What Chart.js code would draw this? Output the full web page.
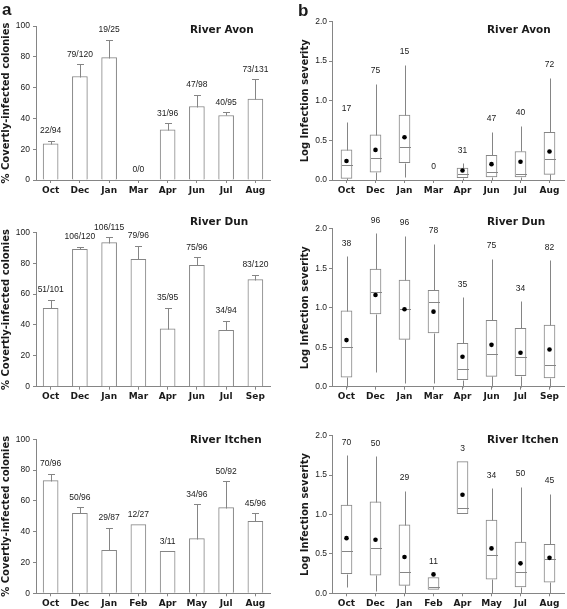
<!DOCTYPE html>
<html><head><meta charset="utf-8">
<script src="https://cdn.jsdelivr.net/npm/chart.js@4.4.0/dist/chart.umd.min.js"></script>
<style>
html,body{margin:0;padding:0;background:#fff;}
#fig{position:relative;width:567px;height:609px;overflow:hidden;background:#fff;}
canvas{position:absolute;}
</style></head><body><div id="fig"></div>
<script>
// ---------- DATA ----------
const avonMonths   = ['Oct','Dec','Jan','Mar','Apr','Jun','Jul','Aug'];
const dunMonths    = ['Oct','Dec','Jan','Mar','Apr','Jun','Jul','Sep'];
const itchenMonths = ['Oct','Dec','Jan','Feb','Apr','May','Jul','Aug'];

// panel a: % covertly-infected colonies (bar) and upper error limit
const avonPct     = [23.5, 67.2, 79.5, 0, 32.6, 47.7, 41.9, 52.5];
const avonUpper   = [25.3, 75.2, 90.9, 0, 36.9, 55.1, 44.0, 65.4];
const avonCounts  = ['22/94','79/120','19/25','0/0','31/96','47/98','40/95','73/131'];

const dunPct      = [50.8, 89.0, 93.3, 82.5, 37.4, 78.6, 36.5, 69.3];
const dunUpper    = [56.4, 90.7, 96.8, 91.4, 51.2, 83.8, 42.8, 72.4];
const dunCounts   = ['51/101','106/120','106/115','79/96','35/95','75/96','34/94','83/120'];

const itchenPct    = [73.2, 51.9, 27.9, 44.6, 27.3, 35.5, 55.6, 46.8];
const itchenUpper  = [77.5, 55.8, 42.6, null, null, 57.8, 72.7, 51.9];
const itchenCounts = ['70/96','50/96','29/87','12/27','3/11','34/96','50/92','45/96'];

// panel b: log infection severity box plots
const avonMin  = [0.00, 0.00, 0.04, null, 0.00, 0.00, 0.00, 0.00];
const avonQ1   = [0.02, 0.10, 0.22, null, 0.03, 0.04, 0.04, 0.07];
const avonMed  = [0.19, 0.28, 0.42, null, 0.08, 0.10, 0.08, 0.27];
const avonQ3   = [0.38, 0.57, 0.82, null, 0.15, 0.31, 0.36, 0.60];
const avonMax  = [0.73, 1.21, 1.45, null, 0.21, 0.61, 0.68, 1.29];
const avonMean = [0.24, 0.38, 0.54, null, 0.12, 0.20, 0.23, 0.36];
const avonN    = ['17','75','15','0','31','47','40','72'];

const dunMin  = [0.00, 0.19, 0.05, 0.05, 0.00, 0.00, 0.00, 0.00];
const dunQ1   = [0.12, 0.92, 0.60, 0.68, 0.09, 0.13, 0.14, 0.11];
const dunMed  = [0.50, 1.20, 0.98, 1.07, 0.22, 0.41, 0.38, 0.27];
const dunQ3   = [0.96, 1.49, 1.35, 1.22, 0.55, 0.84, 0.74, 0.78];
const dunMax  = [1.65, 1.94, 1.91, 1.81, 1.13, 1.62, 1.08, 1.60];
const dunMean = [0.59, 1.16, 0.98, 0.95, 0.38, 0.53, 0.43, 0.47];
const dunN    = ['38','96','96','78','35','75','34','82'];

const itchenMin  = [0.08, 0.03, 0.00, null, null, 0.00, 0.00, 0.00];
const itchenQ1   = [0.25, 0.23, 0.10, 0.05, 1.01, 0.18, 0.08, 0.14];
const itchenMed  = [0.54, 0.58, 0.27, 0.08, 1.08, 0.48, 0.27, 0.43];
const itchenQ3   = [1.12, 1.16, 0.87, 0.20, 1.67, 0.93, 0.65, 0.62];
const itchenMax  = [1.75, 1.74, 1.30, null, null, 1.33, 1.35, 1.26];
const itchenMean = [0.70, 0.68, 0.46, 0.24, 1.25, 0.57, 0.38, 0.45];
const itchenN    = ['70','50','29','11','3','34','50','45'];

const pctTicks = [0, 20, 40, 60, 80, 100];
const sevTicks = [0.0, 0.5, 1.0, 1.5, 2.0];

// ---------- STYLE / LAYOUT ----------
const GRAY = '#858585';
const TXT = '#1a1a1a';
const NUMFAM = "'Liberation Sans', Arial, sans-serif";
const BOLDFAM = "'DejaVu Sans', Verdana, sans-serif";

const ROWS = [
  {cy:0,   ch:200, barT:26,    barB:180,   boxT:21.5,  boxB:180,   titleY:32.5},
  {cy:200, ch:205, barT:232.3, barB:386.7, boxT:228.7, boxB:386.7, titleY:224.5},
  {cy:405, ch:204, barT:439.3, barB:593.3, boxT:435.7, boxB:593.3, titleY:442.7}
];
const LEFT  = {cx:0,   cw:283, L:36,  R:270, titleX:190, tickPad:3, titlePad:0};
const RIGHT = {cx:295, cw:272, L:332, R:564, titleX:487, tickPad:2, titlePad:4.5};

function addCanvas(x, y, w, h) {
  const c = document.createElement('canvas');
  c.width = w; c.height = h;
  c.style.left = x + 'px'; c.style.top = y + 'px';
  c.style.width = w + 'px'; c.style.height = h + 'px';
  document.getElementById('fig').appendChild(c);
  return c;
}

const decor = {
  id: 'decor',
  afterDraw(chart, args, o) {
    const ctx = chart.ctx;
    ctx.save();
    ctx.fillStyle = TXT;
    ctx.textAlign = 'left';
    ctx.textBaseline = 'alphabetic';
    if (o.title) {
      ctx.font = 'bold 10.5px ' + BOLDFAM;
      ctx.fillText(o.title, o.tx, o.ty);
    }
    if (o.letter) {
      ctx.font = 'bold 17px ' + NUMFAM;
      ctx.fillText(o.letter, o.lx, o.ly);
    }
    ctx.restore();
  }
};

const barExtras = {
  id: 'barExtras',
  afterDatasetsDraw(chart, args, o) {
    const ctx = chart.ctx, xs = chart.scales.x, ys = chart.scales.y;
    ctx.save();
    ctx.strokeStyle = GRAY; ctx.lineWidth = 1;
    o.values.forEach((v, i) => {
      const xc = Math.round(xs.getPixelForValue(i)) + 0.5;
      const u = o.upper[i];
      if (u != null && u > v) {
        const y0 = Math.round(ys.getPixelForValue(v)) + 0.5;
        const y1 = Math.round(ys.getPixelForValue(u)) + 0.5;
        ctx.beginPath();
        ctx.moveTo(xc, y0); ctx.lineTo(xc, y1);
        ctx.moveTo(xc - 3.5, y1); ctx.lineTo(xc + 3.5, y1);
        ctx.stroke();
      }
      const top = Math.max(v, u == null ? v : u);
      ctx.fillStyle = TXT;
      ctx.font = '8.5px ' + NUMFAM;
      ctx.textAlign = 'center'; ctx.textBaseline = 'middle';
      ctx.fillText(o.labels[i], xs.getPixelForValue(i), ys.getPixelForValue(top) - 10);
    });
    ctx.restore();
  }
};

const boxExtras = {
  id: 'boxExtras',
  afterDatasetDraw(chart, args, o) {
    if (args.index !== 0) return;
    const ctx = chart.ctx, xs = chart.scales.x, ys = chart.scales.y;
    ctx.save();
    ctx.strokeStyle = GRAY; ctx.lineWidth = 1;
    o.q1.forEach((q1, i) => {
      if (q1 == null) return;
      const xc = Math.round(xs.getPixelForValue(i)) + 0.5;
      const py = v => Math.round(ys.getPixelForValue(v)) + 0.5;
      ctx.beginPath();
      if (o.max[i] != null) { ctx.moveTo(xc, py(o.q3[i])); ctx.lineTo(xc, py(o.max[i])); }
      if (o.min[i] != null) { ctx.moveTo(xc, py(q1)); ctx.lineTo(xc, py(o.min[i])); }
      const m = py(o.med[i]);
      ctx.moveTo(xc - 5.5, m); ctx.lineTo(xc + 5.5, m);
      ctx.stroke();
    });
    ctx.restore();
  },
  afterDatasetsDraw(chart, args, o) {
    const ctx = chart.ctx, xs = chart.scales.x, ys = chart.scales.y;
    ctx.save();
    ctx.fillStyle = TXT;
    ctx.font = '8.5px ' + NUMFAM;
    ctx.textAlign = 'center'; ctx.textBaseline = 'middle';
    o.labels.forEach((lab, i) => {
      const vals = [o.max[i], o.q3[i], o.mean[i]].filter(v => v != null);
      const top = vals.length ? Math.max(...vals) : 0;
      ctx.fillText(lab, xs.getPixelForValue(i), ys.getPixelForValue(top) - 13);
    });
    ctx.restore();
  }
};

function scalesFor(side, row, T, B, yMax, ticks, yTitle, fmt) {
  const xH = row.cy + row.ch - B;
  const yW = side.L - side.cx;
  return {
    x: {
      type: 'category', offset: true,
      grid: {display: true, drawOnChartArea: false, offset: false, tickLength: 3, color: GRAY, lineWidth: 1},
      border: {display: true, color: GRAY, width: 1},
      ticks: {font: {family: BOLDFAM, size: 9, weight: 'bold'}, color: TXT, padding: 2, maxRotation: 0, autoSkip: false},
      afterFit: s => { s.height = xH; }
    },
    y: {
      min: 0, max: yMax,
      afterBuildTicks: s => { s.ticks = ticks.map(v => ({value: v})); },
      grid: {display: true, drawOnChartArea: false, tickLength: 3, color: GRAY, lineWidth: 1},
      border: {display: true, color: GRAY, width: 1},
      ticks: {font: {family: NUMFAM, size: 8.5}, color: TXT, padding: side.tickPad, callback: fmt},
      title: {display: true, text: yTitle, font: {family: BOLDFAM, size: 10, weight: 'bold'}, color: TXT,
              padding: {top: side.titlePad, bottom: 0}},
      afterFit: s => { s.width = yW; }
    }
  };
}

function makeBar(rowIdx, months, pct, upper, counts, title, letter) {
  const row = ROWS[rowIdx], side = LEFT;
  const c = addCanvas(side.cx, row.cy, side.cw, row.ch);
  new Chart(c, {
    type: 'bar',
    data: {
      labels: months,
      datasets: [{
        data: pct.map(v => v > 0 ? v : null),
        backgroundColor: '#ffffff', borderColor: GRAY, borderWidth: 1,
        borderSkipped: 'start', barThickness: 15
      }]
    },
    options: {
      responsive: false, animation: false, devicePixelRatio: 1,
      layout: {padding: {top: row.barT - row.cy, right: side.cx + side.cw - side.R, left: 0, bottom: 0}},
      plugins: {
        legend: {display: false}, tooltip: {enabled: false},
        barExtras: {values: pct, upper: upper, labels: counts},
        decor: {title: title, tx: side.titleX - side.cx, ty: row.titleY - row.cy, letter: letter, lx: 2, ly: 15}
      },
      scales: scalesFor(side, row, row.barT, row.barB, 100, pctTicks, '% Covertly-infected colonies', v => String(v))
    },
    plugins: [barExtras, decor]
  });
}

function makeBox(rowIdx, months, mn, q1, med, q3, mx, mean, ns, title, letter) {
  const row = ROWS[rowIdx], side = RIGHT;
  const c = addCanvas(side.cx, row.cy, side.cw, row.ch);
  new Chart(c, {
    type: 'bar',
    data: {
      labels: months,
      datasets: [{
        type: 'bar', order: 2,
        data: q1.map((a, i) => a == null ? null : [a, q3[i]]),
        backgroundColor: '#ffffff', borderColor: GRAY, borderWidth: 1,
        borderSkipped: false, barThickness: 11
      }, {
        type: 'line', order: 1,
        data: mean, showLine: false,
        pointRadius: 2.3, pointBackgroundColor: '#000000', pointBorderWidth: 0, pointHoverRadius: 2.3
      }]
    },
    options: {
      responsive: false, animation: false, devicePixelRatio: 1,
      layout: {padding: {top: row.boxT - row.cy, right: side.cx + side.cw - side.R, left: 0, bottom: 0}},
      plugins: {
        legend: {display: false}, tooltip: {enabled: false},
        boxExtras: {min: mn, q1: q1, med: med, q3: q3, max: mx, mean: mean, labels: ns},
        decor: {title: title, tx: side.titleX - side.cx, ty: row.titleY - row.cy, letter: letter, lx: 3, ly: 16}
      },
      scales: scalesFor(side, row, row.boxT, row.boxB, 2, sevTicks, 'Log Infection severity', v => Number(v).toFixed(1))
    },
    plugins: [boxExtras, decor]
  });
}

makeBar(0, avonMonths, avonPct, avonUpper, avonCounts, 'River Avon', 'a');
makeBar(1, dunMonths, dunPct, dunUpper, dunCounts, 'River Dun', null);
makeBar(2, itchenMonths, itchenPct, itchenUpper, itchenCounts, 'River Itchen', null);
makeBox(0, avonMonths, avonMin, avonQ1, avonMed, avonQ3, avonMax, avonMean, avonN, 'River Avon', 'b');
makeBox(1, dunMonths, dunMin, dunQ1, dunMed, dunQ3, dunMax, dunMean, dunN, 'River Dun', null);
makeBox(2, itchenMonths, itchenMin, itchenQ1, itchenMed, itchenQ3, itchenMax, itchenMean, itchenN, 'River Itchen', null);
</script></body></html>
